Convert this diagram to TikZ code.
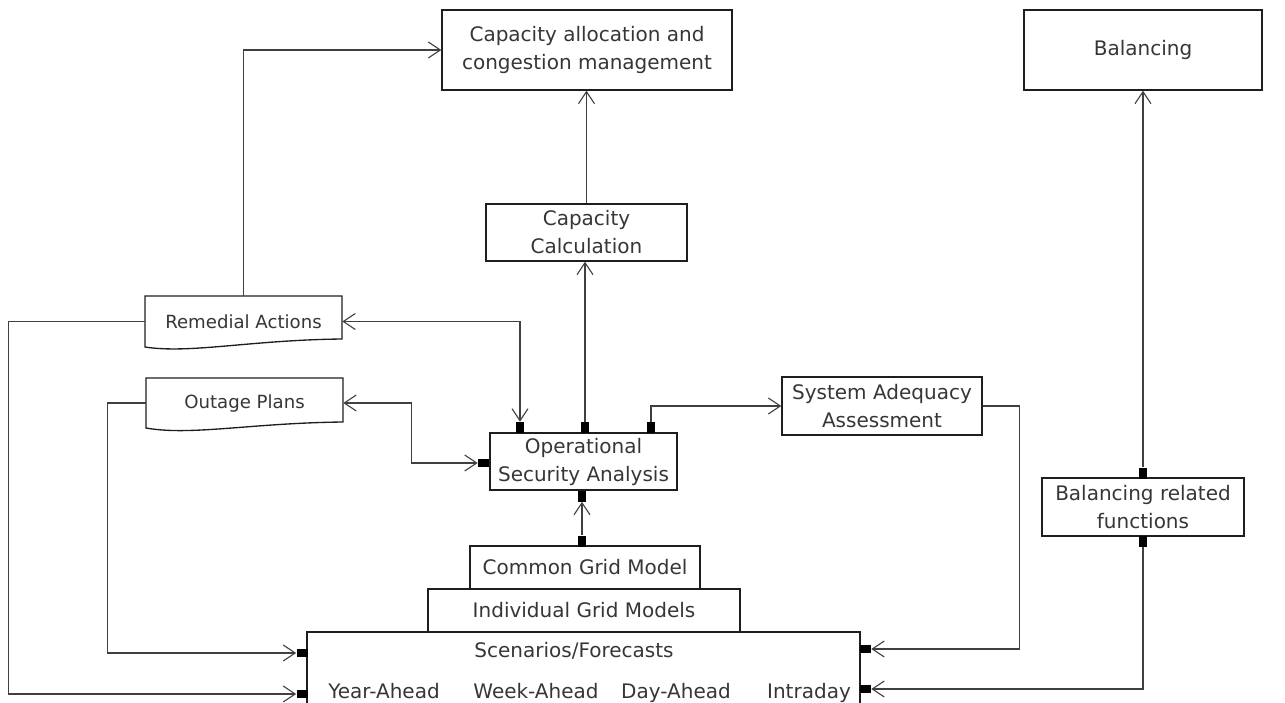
\documentclass[tikz,border=0pt]{standalone}
\usepackage{fontspec}
\setmainfont{DejaVu Sans}
\usetikzlibrary{arrows.meta}
\definecolor{ink}{HTML}{363636}
\definecolor{wirecol}{HTML}{404040}
\definecolor{edgecol}{HTML}{1E1E1E}

\begin{document}
\begin{tikzpicture}[x=0.75pt,y=-0.75pt,
  box/.style={draw=edgecol, line width=1pt, text=ink, inner sep=0pt, align=center,
              font=\fontsize{15}{21}\selectfont},
  doc/.style={text=ink, inner sep=0pt, align=center, font=\fontsize{13.6}{18}\selectfont},
  lbl/.style={text=ink, inner sep=0pt, font=\fontsize{15}{21}\selectfont},
  port/.style={fill=black, draw=none, inner sep=0pt},
  pv/.style={port, minimum width=6pt, minimum height=8.25pt},
  ph/.style={port, minimum width=8.25pt, minimum height=6pt},
  wire/.style={draw=wirecol, line width=0.85pt},
  arr/.style={-{Straight Barb[length=9pt,width=12pt]}},
  arrs/.style={{Straight Barb[length=9pt,width=12pt]}-{Straight Barb[length=9pt,width=12pt]}},
]
\useasboundingbox (0,0) rectangle (1285,703);

% ---- upper targets ----
\node[box, minimum width=217.5pt, minimum height=60pt] (alloc) at (587,50)
  {Capacity allocation and\\congestion management};
\node[box, minimum width=178.5pt, minimum height=60pt] (bal) at (1143,50) {Balancing};

% ---- processes ----
\node[box, minimum width=150.75pt, minimum height=42.75pt] (cc) at (586.5,232.5)
  {Capacity\\Calculation};
\node[box, minimum width=140.25pt, minimum height=42.75pt] (osa) at (583.5,461.5)
  {Operational\\Security Analysis};
\node[box, minimum width=150pt, minimum height=43.5pt] (saa) at (882,406)
  {System Adequacy\\Assessment};
\node[box, minimum width=151.5pt, minimum height=43.5pt] (brf) at (1143,507)
  {Balancing related\\functions};

% ---- documents with wavy bottom edge ----
\node[doc, minimum width=147.75pt, minimum height=38.25pt] (rem) at (243.5,321.5) {Remedial Actions};
\draw[draw=edgecol, line width=1pt] (145,296) -- (342,296) -- (342,339)
  .. controls (250,340) and (190,354) .. (145,347) -- cycle;
\node[doc, minimum width=147.75pt, minimum height=37.5pt] (out) at (244.5,403) {Outage Plans};
\draw[draw=edgecol, line width=1pt] (146,378) -- (343,378) -- (343,422)
  .. controls (251,423) and (191,436) .. (146,428) -- cycle;

% ---- grid models and scenarios ----
\begin{scope}
  \clip (0,0) rectangle (1285,703);
  \node[box, minimum width=414.75pt, minimum height=81pt] (scen) at (583.5,686) {};
\end{scope}
\node[box, fill=white, minimum width=234pt, minimum height=32.25pt] (igm) at (584,610.5)
  {Individual Grid Models};
\node[box, fill=white, minimum width=172.5pt, minimum height=32.25pt] (cgm) at (585,567.5)
  {Common Grid Model};
\node[lbl, anchor=base] (sctitle) at (574,657) {Scenarios/Forecasts};
\node[lbl, anchor=base] (ya) at (384,698) {Year-Ahead};
\node[lbl, anchor=base] (wa) at (536,698) {Week-Ahead};
\node[lbl, anchor=base] (da) at (676,698) {Day-Ahead};
\node[lbl, anchor=base] (id) at (809,698) {Intraday};

% ---- ports ----
\node[pv] (pRA) at (520,427.5) {};
\node[pv] (pCC) at (585,427.5) {};
\node[pv] (pSA) at (651,427.5) {};
\node[ph] (pOP) at (483.5,463) {};
\node[pv] (pOB) at (582,496) {};
\node[pv] (pCG) at (582,541) {};
\node[ph] (pY1) at (302,653) {};
\node[ph] (pY2) at (302,694) {};
\node[ph] (pR1) at (865.5,649) {};
\node[ph] (pR2) at (865.5,689) {};
\node[pv] (pBT) at (1143,473) {};
\node[pv] (pBB) at (1143,541) {};

% ---- connectors ----
\draw[wire, arr] (rem.north) |- (alloc.west);
\draw[wire, arr] (rem.west) -- ++(-136,0) |- (pY2.west);
\draw[wire, arr] (out.west) -- ++(-38,0) |- (pY1.west);
\draw[wire, arrs] (rem.east) -| (pRA.north);
\draw[wire, arrs] (out.east) -- ++(68,0) |- (pOP.west);
\draw[wire, arr] (pCC.north) -- (pCC.north |- cc.south);
\draw[wire, arr] (cc.north) -- (cc.north |- alloc.south);
\draw[wire, arr] (pSA.north) |- (saa.west);
\draw[wire, arr] (pCG.north) -- (pOB.south);
\draw[wire, arr] (saa.east) -- ++(37,0) |- (pR1.east);
\draw[wire, arr] (pBT.north) -- (pBT.north |- bal.south);
\draw[wire, arr] (pBB.south) |- (pR2.east);
\end{tikzpicture}
\end{document}
